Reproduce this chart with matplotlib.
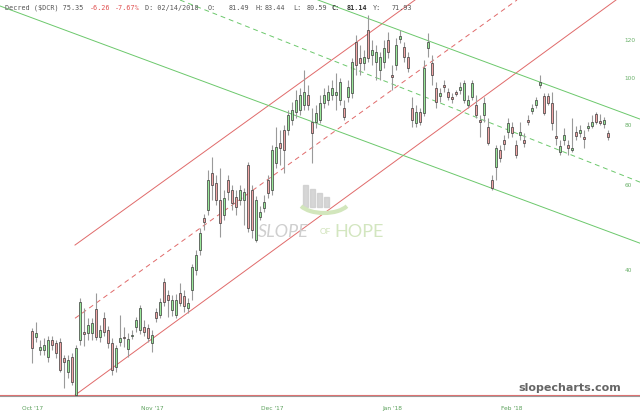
import matplotlib.pyplot as plt
from matplotlib.patches import Rectangle, Arc

# daily candles (index = trading day), prices in $
opens = [29.8, 29.0, 27.2, 27.2, 26.3, 28.6, 28.2, 28.3, 26.2, 24.5,
         26.3, 22.0, 28.6, 29.7, 29.5, 29.5, 33.1, 29.0, 31.7, 30.0,
         28.2, 25.1, 28.3, 29.0, 27.4, 29.1, 30.4, 30.0, 30.4, 30.3,
         28.2, 32.6, 32.2, 37.7, 35.4, 33.0, 32.2, 35.8, 35.2, 33.3,
         36.3, 39.9, 43.9, 51.2, 53.2, 63.5, 60.5, 55.8, 51.9, 61.4,
         58.5, 56.6, 55.8, 55.8, 66.0, 58.5, 46.1, 51.5, 53.7, 61.4,
         58.5, 66.6, 73.3, 78.0, 78.0, 81.8, 85.0, 85.9, 88.0, 92.2,
         81.1, 81.1, 81.8, 88.8, 90.1, 92.2, 92.2, 90.1, 86.7, 91.4,
         93.1, 118.9, 110.1, 107.5, 125.9, 111.6, 108.0, 104.0, 108.0, 120.0,
         101.5, 106.5, 120.6, 116.0, 110.6, 86.7, 80.7, 85.0, 84.6, 115.5,
         107.5, 95.4, 91.8, 96.3, 93.6, 91.4, 93.1, 94.5, 90.1, 88.0,
         91.4, 88.0, 81.4, 83.8, 79.1, 61.4, 65.4, 70.9, 74.4, 77.3,
         79.1, 72.6, 76.2, 74.4, 81.4, 85.4, 88.0, 96.7, 91.8, 91.8,
         88.8, 75.4, 70.2, 74.4, 72.6, 70.9, 77.3, 76.9, 75.4, 78.8,
         79.5, 84.2, 81.1, 80.3, 76.9]
highs = [30.3, 31.1, 28.6, 28.8, 29.1, 29.1, 28.6, 28.8, 26.6, 26.6,
         26.8, 27.9, 34.9, 33.3, 31.7, 31.7, 35.8, 30.7, 32.6, 30.5,
         28.8, 27.9, 32.2, 30.4, 29.5, 30.0, 31.9, 33.8, 31.4, 30.8,
         30.0, 33.3, 34.9, 38.4, 36.3, 35.4, 35.6, 37.5, 36.3, 34.9,
         41.1, 43.9, 48.8, 52.2, 64.4, 68.6, 62.9, 65.0, 58.5, 62.9,
         60.0, 58.5, 60.0, 59.1, 66.9, 60.0, 56.9, 54.2, 57.2, 62.9,
         72.6, 79.1, 78.0, 79.9, 85.9, 89.2, 94.5, 95.4, 104.0, 96.7,
         86.7, 88.0, 92.2, 95.4, 96.7, 99.1, 102.5, 100.0, 90.1, 99.1,
         110.1, 122.9, 117.2, 114.4, 135.3, 120.0, 117.2, 113.3, 120.0, 124.7,
         106.5, 121.1, 125.9, 118.9, 113.3, 91.4, 88.0, 86.7, 109.1, 124.1,
         111.6, 98.1, 95.4, 99.1, 95.4, 93.1, 94.5, 98.1, 99.1, 92.2,
         99.1, 92.2, 83.8, 91.4, 82.6, 62.9, 72.6, 72.6, 76.2, 82.6,
         81.1, 74.4, 81.1, 76.9, 83.8, 88.4, 91.4, 101.7, 93.1, 93.1,
         93.6, 85.9, 74.4, 78.8, 74.4, 82.6, 79.5, 79.9, 78.0, 81.1,
         83.8, 85.0, 84.2, 83.0, 78.0]
lows = [25.6, 28.3, 26.6, 26.6, 25.7, 27.2, 26.2, 24.5, 22.7, 23.8,
        23.0, 21.9, 27.9, 27.8, 28.6, 28.6, 28.6, 28.3, 29.1, 27.5,
        24.2, 24.5, 27.8, 27.6, 26.3, 28.7, 29.7, 29.4, 29.1, 28.3,
        27.0, 31.1, 31.7, 33.6, 31.9, 32.0, 31.7, 33.6, 32.7, 32.5,
        34.6, 39.0, 42.9, 48.4, 51.9, 55.8, 54.5, 46.8, 50.7, 55.8,
        53.2, 51.9, 54.5, 49.5, 47.9, 46.6, 45.7, 50.7, 52.7, 56.3,
        57.2, 65.0, 66.0, 63.5, 76.2, 79.9, 82.6, 83.8, 85.9, 85.9,
        66.6, 78.8, 80.7, 86.7, 88.0, 90.1, 85.9, 88.0, 81.8, 89.2,
        91.0, 101.7, 101.7, 104.0, 108.0, 106.5, 99.1, 99.1, 104.9, 110.1,
        94.5, 104.0, 118.3, 108.0, 103.0, 79.1, 79.1, 79.9, 83.4, 110.6,
        96.7, 86.7, 89.2, 93.6, 90.1, 88.8, 91.8, 92.7, 88.8, 86.7,
        90.1, 82.6, 75.4, 81.1, 72.6, 58.5, 61.4, 67.0, 70.9, 75.1,
        75.4, 68.2, 74.4, 71.9, 79.9, 84.2, 86.7, 95.4, 83.8, 88.0,
        78.0, 72.6, 69.2, 72.6, 69.2, 70.2, 74.4, 75.4, 71.6, 77.6,
        78.8, 80.3, 79.9, 78.8, 74.4]
closes = [27.5, 29.5, 27.6, 27.9, 28.6, 27.9, 26.8, 24.7, 25.7, 26.0,
          23.4, 27.5, 34.3, 29.4, 30.7, 31.0, 29.0, 30.0, 29.7, 28.2,
          24.7, 27.5, 28.8, 28.8, 28.7, 29.2, 31.4, 33.3, 29.7, 28.8,
          29.2, 31.7, 34.3, 34.3, 34.6, 34.6, 34.6, 34.1, 33.6, 34.1,
          40.5, 42.9, 47.7, 50.2, 61.4, 60.0, 55.8, 50.0, 56.3, 58.0,
          55.0, 54.0, 58.5, 58.0, 48.8, 48.4, 55.8, 52.7, 55.3, 57.8,
          70.9, 72.0, 71.6, 70.9, 83.8, 85.9, 90.1, 92.2, 93.6, 88.0,
          76.9, 84.6, 88.8, 92.2, 93.6, 95.4, 93.6, 98.1, 83.0, 95.8,
          108.0, 106.5, 107.5, 110.6, 110.1, 114.4, 113.3, 110.6, 115.5, 113.3,
          100.5, 117.2, 122.3, 110.6, 105.0, 81.8, 85.0, 81.1, 104.9, 118.9,
          101.7, 89.2, 93.1, 95.8, 91.4, 90.5, 92.9, 95.8, 97.6, 90.1,
          97.6, 83.8, 81.1, 88.8, 73.3, 59.1, 71.6, 68.2, 73.0, 80.7,
          76.9, 69.2, 77.3, 73.3, 81.1, 86.7, 90.1, 98.1, 84.6, 88.8,
          80.7, 75.1, 72.3, 76.2, 71.6, 71.6, 75.8, 78.0, 74.7, 79.5,
          81.1, 81.1, 80.7, 81.8, 75.4]

month_pos = [0.25, 30, 60, 90, 120]
month_labels = ["Oct '17", "Nov '17", "Dec '17", "Jan '18", "Feb '18"]
price_ticks = [40, 60, 80, 100, 120]

# trend lines drawn on the chart: (x0, p0, x1, p1)
red_upper = (10.75, 45.0, 95.75, 145.3)
red_mid = (10.75, 31.7, 121.25, 145.3)
red_lower = (10.75, 21.95, 146.0, 145.3)
green_upper = (71.5, 145.3, 152.0, 82.2)
green_mid = (37.0, 145.3, 152.0, 60.8)
green_lower = (-8.0, 141.2, 152.0, 45.4)
support = 21.95

fig = plt.figure(figsize=(6.4, 4.18), dpi=100)
ax = fig.add_axes([0, 22 / 418, 1, 396 / 418])
ax.set_yscale('log')
ax.set_xlim(-8, 152)
ax.set_ylim(21.86, 145.3)

# trend lines
ax.axhline(support, color='#e07070', lw=0.8)
for ln, ls in [(red_upper, '-'), (red_mid, (0, (5, 4))), (red_lower, '-')]:
    ax.plot([ln[0], ln[2]], [ln[1], ln[3]], color='#e06a6a', lw=0.7, ls=ls)
for ln, ls in [(green_upper, '-'), (green_mid, (0, (5, 4))), (green_lower, '-')]:
    ax.plot([ln[0], ln[2]], [ln[1], ln[3]], color='#6cc86c', lw=0.7, ls=ls)

# candles
x = list(range(len(opens)))
ax.vlines(x, lows, highs, color='#9a9a9a', lw=0.8, zorder=3)
for i in x:
    o, c = opens[i], closes[i]
    lo, hi = min(o, c), max(o, c)
    if hi / lo < 1.008:
        hi = lo * 1.008
    col = '#9ae89a' if c >= o else '#f2a6a6'
    ax.bar(i, hi - lo, bottom=lo, width=0.72, color=col,
           edgecolor='#3a3a3a', linewidth=0.5, zorder=4)

# axes styling
for s in ['top', 'left', 'right']:
    ax.spines[s].set_visible(False)
ax.spines['bottom'].set_color('#9a9a9a')
ax.spines['bottom'].set_linewidth(0.8)
ax.set_xticks(month_pos)
ax.set_xticklabels(month_labels)
ax.tick_params(axis='x', length=0, pad=7, labelsize=4.2, labelcolor='#5aa05a')
ax.yaxis.tick_right()
ax.set_yticks(price_ticks)
ax.set_yticklabels([str(t) for t in price_ticks])
ax.yaxis.set_minor_locator(plt.NullLocator())
ax.tick_params(axis='y', length=0, pad=-11, labelsize=4.2, labelcolor='#6ab06a')

# header line
hdr = [(5, "Decred ($DCR) 75.35", '#555555', 'normal'),
       (90, "-6.26", '#e05050', 'normal'),
       (115, "-7.67%", '#e05050', 'normal'),
       (145, "D: 02/14/2018", '#555555', 'normal'),
       (208, "O:", '#555555', 'normal'),
       (229, "81.49", '#555555', 'normal'),
       (255, "H:", '#555555', 'normal'),
       (265, "83.44", '#555555', 'normal'),
       (293, "L:", '#555555', 'normal'),
       (307, "80.59", '#555555', 'normal'),
       (331, "C:", '#333333', 'bold'),
       (347, "81.14", '#333333', 'bold'),
       (373, "Y:", '#555555', 'normal'),
       (392, "71.93", '#555555', 'normal')]
for px, t, c, w in hdr:
    fig.text(px / 640, 1 - 8 / 418, t, color=c, fontweight=w, fontsize=4.9,
             family='DejaVu Sans Mono', va='center', ha='left')

# watermark
for k, top in enumerate([185, 189, 193, 197]):
    fig.add_artist(Rectangle((303 + 7 * k, 418 - 207), 4.5, 207 - top,
                             transform=None, color='#cccccc', alpha=0.8))
fig.add_artist(Arc((324, 418 - 200), 52, 26, theta1=195, theta2=345,
                   transform=None, color='#d2e6bc', lw=3))
fig.text(258 / 640, 1 - 232 / 418, "SLOPE", fontsize=13, style='italic',
         color='#cfcfcf', va='center', family='Lato')
fig.text(320 / 640, 1 - 232 / 418, "OF", fontsize=6, color='#cfe2b8',
         va='center', family='Lato')
fig.text(334 / 640, 1 - 232 / 418, "HOPE", fontsize=13, color='#d3e6c0',
         va='center', family='Lato')

fig.text(570 / 640, 1 - 388 / 418, "slopecharts.com", fontsize=8,
         fontweight='bold', color='#666666', ha='center', va='center')

fig.savefig('out.png', dpi=100)
